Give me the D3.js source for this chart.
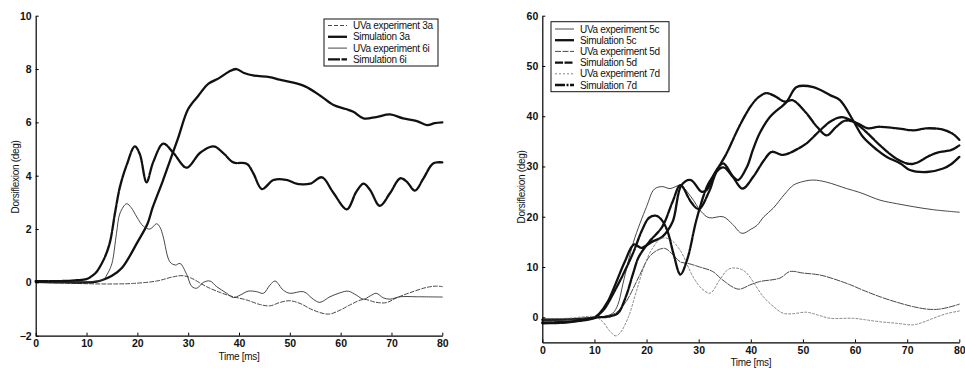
<!DOCTYPE html>
<meta charset="utf-8">
<head>
    <title>Dorsiflexion: experiment vs simulation</title>
    <script src="https://d3js.org/d3.v7.min.js"></script>
    <style>
    body {
        margin: 0;
        background: #fff;
    }
    text {
        font-family: "Liberation Sans", Arial, sans-serif;
        fill: #111;
    }
    .tick text {
        font-size: 10.5px;
        font-weight: bold;
    }
    .label {
        font-size: 10px;
        letter-spacing: -0.3px;
    }
    .legend text {
        font-size: 10px;
        letter-spacing: -0.3px;
    }
    .curve {
        fill: none;
        stroke-linejoin: round;
        stroke-linecap: round;
    }
    </style>
</head>

<body>
<script>

// ---- data, left panel: [time ms, dorsiflexion deg] ----
var uva3a = [[0,0.0],[5,-0.02],[10,-0.05],[15,-0.06],[19.2,-0.04],[23.8,0.05],[27.1,0.21],[29,0.25],[30.7,0.15],
  [33.6,-0.16],[36.3,-0.38],[38.9,-0.54],[41.5,-0.66],[44.1,-0.83],[46.1,-0.88],[48.1,-0.75],[50,-0.69],[52,-0.79],
  [54.6,-1.04],[57.6,-1.19],[59.9,-1.04],[61.8,-0.85],[64.5,-0.64],[67,-0.75],[69,-0.76],[71,-0.58],[73.6,-0.39],
  [76.9,-0.19],[78.9,-0.14],[80,-0.16]];
var sim3a = [[0,0.02],[5,0.0],[10,0.0],[12,0.03],[13,0.08],[15,0.25],[17,0.55],[20,1.5],[22,2.2],[23,2.8],[25,3.8],
  [26.5,4.6],[28,5.4],[30,6.5],[32,7.0],[34,7.45],[36,7.65],[38,7.9],[39.5,8.0],[41,7.85],[43,7.75],[46,7.7],[48,7.6],
  [50,7.52],[53,7.35],[56,7.0],[58.6,6.65],[61,6.5],[62.5,6.4],[64.5,6.15],[67,6.2],[69.7,6.3],[72.3,6.15],[75,6.05],
  [77,5.9],[78.5,5.97],[80,6.0]];
var uva6i = [[0,0.03],[5,0.0],[10,0.02],[12,0.05],[13.3,0.1],[14.2,0.35],[15,0.71],[15.9,1.84],[16.6,2.6],[17.9,2.95],
  [18.8,2.8],[19.9,2.45],[21.2,2.1],[22.5,2.0],[23.8,2.2],[24.5,2.05],[25.1,1.7],[26.4,0.77],[27.5,0.65],[28.4,0.71],
  [29.7,0.3],[30.7,-0.15],[31.7,-0.22],[33,0.0],[34.3,0.05],[35.6,-0.16],[37.6,-0.41],[38.9,-0.57],[40.2,-0.48],
  [41.8,-0.33],[43.5,-0.35],[44.8,-0.41],[46.1,-0.1],[47.1,0.05],[48.7,-0.29],[50,-0.41],[52.7,-0.35],[54.6,-0.63],
  [55.9,-0.75],[57.9,-0.54],[59.9,-0.39],[61.5,-0.33],[63.1,-0.48],[64.5,-0.63],[65.8,-0.51],[67,-0.41],[68.4,-0.58],
  [69.7,-0.63],[71.7,-0.54],[75,-0.54],[80,-0.55]];
var sim6i = [[0,0.05],[5,0.05],[8,0.08],[10,0.12],[11.3,0.27],[12,0.4],[13.5,0.9],[14.6,1.5],[15.6,2.6],[16.6,3.6],
  [17.9,4.4],[19.5,5.1],[20.5,4.8],[21.8,3.75],[23.1,4.5],[25.1,5.2],[27.1,4.85],[29.7,4.3],[32.3,4.85],[35,5.1],
  [36.9,4.85],[38.9,4.5],[41.5,4.45],[42.8,4.1],[44.5,3.5],[46.8,3.84],[49.4,3.84],[51.3,3.7],[54,3.7],[56.3,3.94],
  [58.6,3.35],[61.2,2.74],[63.1,3.4],[64.5,3.7],[65.8,3.46],[67.7,2.87],[69.7,3.34],[71.7,3.9],[73,3.78],[74.6,3.44],
  [76.3,3.9],[78.2,4.46],[80,4.5]];

// ---- data, right panel ----
var uva5c = [[0,-0.3],[5,-0.3],[10,0],[12,0.2],[13.5,0.8],[14.5,2.5],[15.5,6.8],[17.5,15],[20,22],[21.5,25.5],[23,26],
  [24.5,25.6],[26.5,26.2],[28.5,24],[30.5,21],[32,19.8],[34.7,20],[36.5,18.5],[38.3,16.7],[40,17.5],[41.2,18.3],
  [42.5,20],[44.3,21.7],[46.5,24.5],[48.2,26.3],[50,27],[52,27.3],[54.5,26.9],[58.4,25.6],[61,24.8],[64.8,23.3],
  [68,22.6],[71.2,22],[75,21.4],[80,20.9]];
var sim5c = [[0,-0.5],[5,-0.4],[10,0.0],[11,0.8],[12.5,3],[14,6.5],[15.8,11],[17.6,14.5],[19,13.8],[21,15],[23,16],
  [25,19],[26.7,26.3],[28.5,27.3],[30.5,25],[31.5,25.3],[33,28.5],[34.7,30.6],[36.6,28],[37.6,27.3],[39.3,30],
  [40.4,33.3],[41.7,36.6],[43.7,39.9],[46.9,42.9],[48.8,45.8],[52,45.8],[55.2,44.2],[57.1,43.2],[59.6,39.2],
  [61.5,35.9],[64.2,33.3],[66.1,31.9],[68.7,30.6],[70.5,29.3],[73.8,28.9],[76.9,29.6],[78.5,30.5],[80,31.9]];
var uva5d = [[0,-0.6],[5,-0.5],[10,0],[12,0.2],[14,0.8],[16,3],[18.5,8],[20.5,12],[22,13.3],[23.5,13.7],[25,12.5],
  [26.5,11],[28,10.7],[30.2,10],[32.7,9.1],[34.5,7.5],[37.6,5.6],[40,6.5],[41.7,7.1],[45.6,7.8],[47.5,9.1],[50,8.8],
  [53.3,8.4],[56,7.6],[59,6.5],[61.5,5.4],[65,4],[68,3],[71.2,2.1],[74,1.6],[76,1.6],[78,2],[80,2.6]];
var sim5d = [[0,-1.2],[5,-1.0],[10,-0.1],[13,0.2],[14.5,0.8],[16,4],[17.5,9],[18.5,12],[20.5,15],[23,18],[25,23],
  [26.5,26.3],[28.5,23],[30,21.5],[32,25],[33.5,29],[34.8,29.8],[36.5,28],[38.4,25.6],[40.5,28],[42.5,31.2],[44,32.9],
  [46.2,32.3],[49,33.5],[50.7,34.6],[53.3,37.2],[55.2,38.9],[57.3,39.8],[59.6,39],[62,37],[65,34],[68,31.5],
  [70.5,30.5],[72,30.8],[74,32],[76,32.8],[78.5,33.3],[80,34.2]];
var uva7d = [[0,-0.3],[5,-0.2],[10,0.1],[11.5,-0.8],[13,-2.8],[14.1,-3.7],[15,-3.0],[16.5,0],[18,5],[19.5,10],
  [21,13.5],[22.8,15.7],[24.5,15.5],[26.4,13.4],[28.9,8.1],[30.5,5.8],[32.2,4.8],[34,7.4],[35.5,9.4],[36.6,9.8],
  [38,9.6],[39.2,8.8],[42.4,4.1],[44.5,2],[46.2,0.8],[48,0.7],[50.7,1],[53,0.4],[55.2,-0.2],[59.6,-0.2],[62,-0.5],
  [64.8,-0.9],[68,-1.2],[71.2,-1.5],[73,-1.0],[75,-0.2],[77.5,0.7],[80,1.25]];
var sim7d = [[0,-1.0],[5,-0.9],[10,-0.2],[10.5,0.2],[12,1.8],[13.5,4.5],[15.5,8.5],[17.5,13],[19,17],[20.5,19.8],
  [21.8,20.2],[22.8,19.5],[24,17.2],[25.2,12.5],[26.5,8.5],[27.8,11.5],[29.6,19.5],[31.6,26],[33,28.5],[35.3,32.5],
  [37.7,37.8],[40,42],[41.5,43.8],[43,44.6],[44.6,44],[46.5,42.9],[48,43.2],[50.5,40.8],[52.7,37.9],[54.6,36.2],
  [56.3,37.8],[58,39.1],[60,38.8],[62.5,37.6],[64.5,37.9],[68,37.6],[71.2,37.2],[73.8,37.6],[77,37.3],[79,36.3],
  [80,35.3]];

// tick values
var xTicks = [0, 10, 20, 30, 40, 50, 60, 70, 80];
var yTicksLeft = [-2, 0, 2, 4, 6, 8, 10];
var yTicksRight = [0, 10, 20, 30, 40, 50, 60];

// line styles: thick simulation, thin experiment
var thin = 0.9, thick = 2.3;

var leftSeries = [
  {name: "UVa experiment 3a", data: uva3a, w: thin,  dash: "4,2", color: "#333"},
  {name: "Simulation 3a",     data: sim3a, w: thick, dash: null,  color: "#111"},
  {name: "UVa experiment 6i", data: uva6i, w: thin,  dash: null,  color: "#333"},
  {name: "Simulation 6i",     data: sim6i, w: thick, dash: "12,1.5", color: "#111"}
];
var rightSeries = [
  {name: "UVa experiment 5c", data: uva5c, w: thin,  dash: null,  color: "#333"},
  {name: "Simulation 5c",     data: sim5c, w: thick, dash: null,  color: "#111"},
  {name: "UVa experiment 5d", data: uva5d, w: thin,  dash: "6,1.5", color: "#333"},
  {name: "Simulation 5d",     data: sim5d, w: thick, dash: "8,1.5", color: "#111"},
  {name: "UVa experiment 7d", data: uva7d, w: thin,  dash: "2,2", color: "#777"},
  {name: "Simulation 7d",     data: sim7d, w: thick, dash: "10,1.5,2,1.5", color: "#111"}
];

var svg = d3.select("body").append("svg")
    .attr("width", 965)
    .attr("height", 368);

function drawPanel(opt) {
  var x = d3.scaleLinear().domain([0, 80]).range([opt.x0, opt.x1]);
  var y = d3.scaleLinear().domain(opt.yDomain).range([opt.y0, opt.y1]);
  var g = svg.append("g");

  // curves
  var line = d3.line()
      .x(function(d) { return x(d[0]); })
      .y(function(d) { return y(d[1]); })
      .curve(d3.curveCatmullRom.alpha(0.5));

  opt.series.forEach(function(s) {
    g.append("path")
        .datum(s.data)
        .attr("class", "curve")
        .attr("stroke", s.color)
        .attr("stroke-width", s.w)
        .attr("stroke-dasharray", s.dash)
        .attr("d", line);
  });

  // axes, ticks inside
  g.append("g")
      .attr("transform", "translate(0," + opt.y0 + ")")
      .call(d3.axisBottom(x).tickValues(xTicks).tickSizeInner(-3).tickSizeOuter(0).tickPadding(4))
      .call(function(a) { a.select(".domain").attr("stroke-width", 1.2); });

  g.append("g")
      .attr("transform", "translate(" + opt.x0 + ",0)")
      .call(d3.axisLeft(y).tickValues(opt.yTicks).tickSizeInner(-3).tickSizeOuter(0).tickPadding(4))
      .call(function(a) { a.select(".domain").attr("stroke-width", 1.2); });

  // axis labels
  g.append("text")
      .attr("class", "label")
      .attr("x", (opt.x0 + opt.x1) / 2)
      .attr("y", opt.xLabelY)
      .attr("text-anchor", "middle")
      .attr("dy", "0.35em")
      .text("Time [ms]");

  g.append("text")
      .attr("class", "label")
      .attr("transform", "translate(" + opt.yLabelX + "," + opt.yLabelCy + ") rotate(-90)")
      .attr("text-anchor", "middle")
      .attr("dy", "0.35em")
      .text("Dorsiflexion (deg)");

  // legend
  var lg = g.append("g").attr("class", "legend");
  var b = opt.legend;
  lg.append("rect")
      .attr("x", b.x).attr("y", b.y)
      .attr("width", b.w).attr("height", b.h)
      .attr("fill", "#fff").attr("stroke", "#111").attr("stroke-width", 1);

  opt.series.forEach(function(s, i) {
    var yy = b.y + b.first + i * b.step;
    lg.append("line")
        .attr("x1", b.x + 4).attr("x2", b.x + 23)
        .attr("y1", yy).attr("y2", yy)
        .attr("stroke", s.color)
        .attr("stroke-width", s.w)
        .attr("stroke-dasharray", s.dash);
    lg.append("text")
        .attr("x", b.x + 29)
        .attr("y", yy)
        .attr("dy", "0.35em")
        .text(s.name);
  });
}

drawPanel({
  series: leftSeries,
  x0: 35.7, x1: 442.3, y0: 335.7, y1: 15.7,
  yDomain: [-2, 10], yTicks: yTicksLeft,
  xLabelY: 356, yLabelX: 15, yLabelCy: 177,
  legend: {x: 324, y: 19, w: 114, h: 47, first: 6.5, step: 11.3}
});

drawPanel({
  series: rightSeries,
  x0: 542.3, x1: 959.3, y0: 342.4, y1: 15.7,
  yDomain: [-5, 60], yTicks: yTicksRight,
  xLabelY: 362, yLabelX: 521.7, yLabelCy: 187,
  legend: {x: 551, y: 21.7, w: 118, h: 70, first: 7.3, step: 11.2}
});

</script>
</body>
